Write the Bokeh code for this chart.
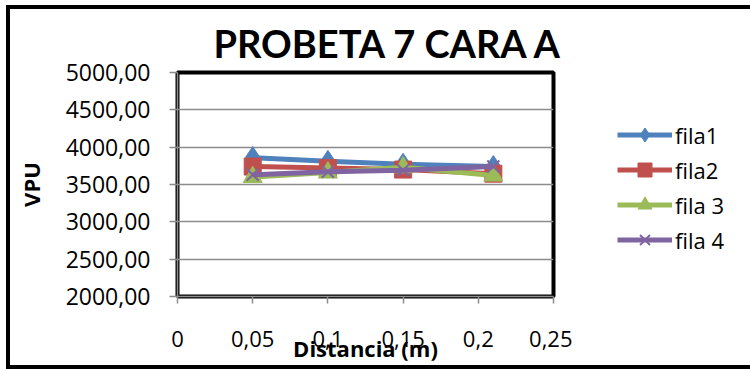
from bokeh.plotting import figure
from bokeh.models import FixedTicker, Range1d
from bokeh.layouts import row
from bokeh.embed import file_html
from bokeh.resources import INLINE

# ---- data ----
distancia = [0.05, 0.1, 0.15, 0.21]
fila1 = [3860, 3810, 3770, 3740]
fila2 = [3740, 3720, 3700, 3645]
fila3 = [3600, 3660, 3730, 3620]
fila4 = [3630, 3670, 3690, 3740]
series = [fila1, fila2, fila3, fila4]
series_names = ["fila1", "fila2", "fila 3", "fila 4"]

x_ticks = [0, 0.05, 0.1, 0.15, 0.2, 0.25]
x_tick_labels = ["0", "0,05", "0,1", "0,15", "0,2", "0,25"]
y_ticks = [2000, 2500, 3000, 3500, 4000, 4500, 5000]
y_tick_labels = ["2000,00", "2500,00", "3000,00", "3500,00", "4000,00", "4500,00", "5000,00"]

title_text = "PROBETA 7 CARA A"
x_label = "Distancia (m)"
y_label = "VPU"

FONT = "Open Sans"
colors = ["#4F81BD", "#C0504D", "#9BBB59", "#8064A2"]
markers = ["diamond", "square", "triangle", "x"]
sizes = [22, 17, 19, 17]

# ---------------- main chart ----------------
p = figure(width=562, height=356, output_backend="svg", toolbar_location=None,
           x_range=Range1d(0, 0.25), y_range=Range1d(2000, 5000),
           min_border_left=167, min_border_right=19, min_border_top=63, min_border_bottom=68,
           title=title_text)

p.background_fill_color = "white"
p.border_fill_color = "white"
p.outline_line_color = "black"
p.outline_line_width = 4

p.title.text_font = "Lato"
p.title.text_font_size = "38px"
p.title.text_font_style = "bold"
p.title.text_color = "black"
p.title.align = "left"
p.title.offset = 36
p.title.standoff = 14

p.xgrid.grid_line_color = None
p.ygrid.grid_line_color = "#8c8c8c"
p.ygrid.grid_line_width = 1.5
p.ygrid.ticker = FixedTicker(ticks=y_ticks)

xa = p.xaxis[0]
xa.ticker = FixedTicker(ticks=x_ticks)
xa.major_label_overrides = {t: l for t, l in zip(x_ticks, x_tick_labels)}
xa.axis_line_color = "#8c8c8c"
xa.axis_line_width = 1.5
xa.major_tick_line_color = "#8c8c8c"
xa.major_tick_line_width = 1.5
xa.major_tick_out = 7
xa.major_tick_in = 0
xa.minor_tick_line_color = None
xa.major_label_standoff = 27
xa.major_label_text_font = FONT
xa.major_label_text_font_size = "22px"
xa.major_label_text_color = "black"
xa.axis_label = x_label
xa.axis_label_text_font = FONT
xa.axis_label_text_font_size = "22px"
xa.axis_label_text_font_style = "bold"
xa.axis_label_text_color = "black"
xa.axis_label_standoff = -17

ya = p.yaxis[0]
ya.ticker = FixedTicker(ticks=y_ticks)
ya.major_label_overrides = {t: l for t, l in zip(y_ticks, y_tick_labels)}
ya.axis_line_color = "#8c8c8c"
ya.axis_line_width = 1.5
ya.major_tick_line_color = "#8c8c8c"
ya.major_tick_line_width = 1.5
ya.major_tick_out = 8
ya.major_tick_in = 0
ya.minor_tick_line_color = None
ya.major_label_standoff = 19
ya.major_label_text_font = FONT
ya.major_label_text_font_size = "23px"
ya.major_label_text_color = "black"
ya.axis_label = y_label
ya.axis_label_text_font = FONT
ya.axis_label_text_font_size = "22px"
ya.axis_label_text_font_style = "bold"
ya.axis_label_text_color = "black"
ya.axis_label_standoff = 17

for ys, c, m, s in zip(series, colors, markers, sizes):
    p.line(distancia, ys, line_color=c, line_width=5)
    if m == "x":
        p.scatter(distancia, ys, marker=m, size=s, line_color=c, line_width=2)
    else:
        p.scatter(distancia, ys, marker=m, size=s, fill_color=c, line_color=c)

# ---------------- legend panel ----------------
# same series, drawn outside this panel's view so that only the legend shows
q = figure(width=178, height=356, output_backend="svg", toolbar_location=None,
           x_range=Range1d(1, 2), y_range=Range1d(0, 1),
           x_axis_location=None, y_axis_location=None,
           min_border_left=0, min_border_right=0, min_border_top=53, min_border_bottom=0)
q.outline_line_color = None
q.grid.visible = False
q.background_fill_color = "white"
q.border_fill_color = "white"

for ys, name, c, m in zip(series, series_names, colors, markers):
    q.line(distancia, ys, line_color=c, line_width=5, legend_label=name)
    if m == "x":
        q.scatter(distancia, ys, marker=m, line_color=c, line_width=2, legend_label=name)
    else:
        q.scatter(distancia, ys, marker=m, fill_color=c, line_color=c, legend_label=name)

lg = q.legend[0]
lg.location = "top_left"
lg.border_line_color = None
lg.background_fill_alpha = 0
lg.padding = 0
lg.margin = 45
lg.spacing = 0
lg.glyph_width = 55
lg.glyph_height = 35
lg.label_standoff = 3
lg.label_text_font = FONT
lg.label_text_font_size = "22px"
lg.label_text_color = "black"

layout = row(p, q)
layout.styles = {"margin-left": "6px", "margin-top": "5px",
                 "border-left": "4px solid black", "border-top": "4px solid black",
                 "border-bottom": "4px solid black"}

open("out.html", "w").write(file_html(layout, INLINE))
